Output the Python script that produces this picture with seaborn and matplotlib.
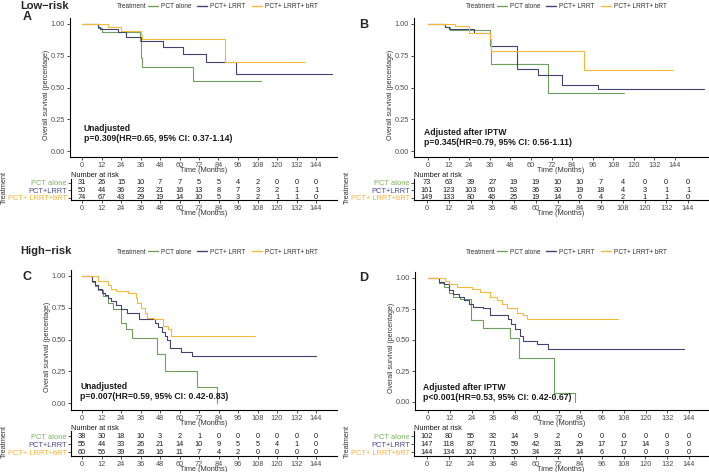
import matplotlib
matplotlib.use("Agg")
import matplotlib.pyplot as plt
from matplotlib.lines import Line2D
import pandas as pd
import seaborn as sns

W, H = 709, 472

groups = ["PCT alone", "PCT+ LRRT", "PCT+ LRRT+ bRT"]
row_labels = ["PCT alone", "PCT+LRRT", "PCT+ LRRT+bRT"]
colors = ["#6f9f5f", "#43436f", "#f6b93b"]
label_colors = ["#78b35c", "#4b4b96", "#f2b134"]
time_ticks = list(range(0, 145, 12))

# --- KM curves (step points) ---
a_alone_t = [0, 10, 12, 35.5, 36, 36.5, 37, 68, 110]
a_alone_s = [1.0, 0.967, 0.934, 0.87, 0.80, 0.73, 0.663, 0.553, 0.553]
a_lrrt_t = [0, 10, 11, 22, 27, 36, 50, 62, 76, 95, 154]
a_lrrt_s = [1.0, 0.98, 0.96, 0.94, 0.90, 0.87, 0.82, 0.765, 0.70, 0.61, 0.61]
a_brt_t = [0, 16, 24, 36, 37, 88, 137]
a_brt_s = [1.0, 0.98, 0.945, 0.91, 0.879, 0.70, 0.70]

b_alone_t = [0, 10, 13, 36, 37, 70, 114]
b_alone_s = [1.0, 0.98, 0.955, 0.83, 0.684, 0.455, 0.455]
b_lrrt_t = [0, 10, 12, 27, 36, 37, 52, 64, 78, 99, 161]
b_lrrt_s = [1.0, 0.98, 0.96, 0.93, 0.88, 0.826, 0.645, 0.595, 0.52, 0.487, 0.487]
b_brt_t = [0, 16, 24, 36, 37, 91, 143]
b_brt_s = [1.0, 0.985, 0.93, 0.88, 0.79, 0.634, 0.634]

c_alone_t = [0, 6, 8, 10, 13, 16, 19, 24, 27, 31, 46, 51, 71, 83]
c_alone_s = [1.0, 0.95, 0.92, 0.89, 0.84, 0.79, 0.74, 0.63, 0.58, 0.51, 0.384, 0.253, 0.128, 0.0]
c_lrrt_t = [0, 6, 8, 10, 12, 14, 16, 18, 21, 24, 27.5, 35, 45, 47, 49, 51, 52, 54, 61, 67.5, 144]
c_lrrt_s = [1.0, 0.96, 0.93, 0.90, 0.87, 0.85, 0.83, 0.80, 0.77, 0.74, 0.71, 0.66, 0.63, 0.60,
            0.56, 0.53, 0.50, 0.43, 0.405, 0.37, 0.37]
c_brt_t = [0, 10, 16, 18, 21, 28.5, 33, 34, 36.5, 38.5, 40, 44, 50, 53, 55, 106.5]
c_brt_s = [1.0, 0.96, 0.93, 0.90, 0.88, 0.867, 0.83, 0.79, 0.75, 0.71, 0.67, 0.66, 0.61, 0.58,
           0.527, 0.527]

d_alone_t = [0, 6, 8.6, 11.4, 14, 17.8, 23.5, 30.6, 45.3, 50, 69.5, 81]
d_alone_s = [1.0, 0.96, 0.93, 0.88, 0.85, 0.83, 0.665, 0.598, 0.517, 0.351, 0.07, 0.0]
d_lrrt_t = [0, 6, 8.6, 11.4, 14, 16.9, 19.6, 22.4, 25, 30.6, 34.3, 44.4, 46, 48, 51, 52.6, 60,
            66.4, 141]
d_lrrt_s = [1.0, 0.97, 0.95, 0.90, 0.87, 0.85, 0.82, 0.79, 0.77, 0.755, 0.70, 0.67, 0.63, 0.59,
            0.53, 0.49, 0.464, 0.424, 0.424]
d_brt_t = [0, 9.5, 11.4, 16, 24, 28.8, 34.3, 38, 40.7, 43.5, 49, 52.6, 54.5, 105]
d_brt_s = [1.0, 0.975, 0.955, 0.93, 0.915, 0.89, 0.85, 0.82, 0.79, 0.759, 0.72, 0.70, 0.673, 0.673]

# --- number at risk ---
a_risk = [[31, 26, 15, 10, 7, 7, 5, 5, 4, 2, 0, 0, 0],
          [50, 44, 36, 23, 21, 16, 13, 8, 7, 3, 2, 1, 1],
          [74, 67, 43, 29, 19, 14, 10, 5, 3, 2, 1, 1, 0]]
b_risk = [[73, 63, 39, 27, 19, 19, 10, 10, 7, 4, 0, 0, 0],
          [161, 123, 103, 60, 53, 36, 30, 19, 18, 4, 3, 1, 1],
          [149, 133, 80, 46, 25, 19, 14, 6, 4, 2, 1, 1, 0]]
c_risk = [[38, 30, 18, 10, 3, 2, 1, 0, 0, 0, 0, 0, 0],
          [55, 44, 33, 26, 21, 14, 10, 9, 5, 5, 4, 1, 0],
          [60, 56, 39, 26, 16, 11, 7, 4, 2, 0, 0, 0, 0]]
d_risk = [[102, 80, 55, 32, 14, 9, 2, 0, 0, 0, 0, 0, 0],
          [147, 118, 87, 71, 59, 42, 31, 29, 17, 17, 14, 3, 0],
          [144, 134, 102, 73, 50, 34, 22, 14, 6, 0, 0, 0, 0]]

annot = {
    "A": "Unadjusted\np=0.309(HR=0.65, 95% CI: 0.37-1.14)",
    "B": "Adjusted after IPTW\np=0.345(HR=0.79, 95% CI: 0.56-1.11)",
    "C": "Unadjusted\np=0.007(HR=0.59, 95% CI: 0.42-0.83)",
    "D": "Adjusted after IPTW\np<0.001(HR=0.53, 95% CI: 0.42-0.67)",
}
annot_pos = {"A": (0.052, 0.10), "B": (0.034, 0.072), "C": (0.034, 0.064), "D": (0.027, 0.058)}

sns.set_theme(style="ticks")
plt.rcParams["font.family"] = ["Liberation Sans", "DejaVu Sans"]

fig = plt.figure(figsize=(W / 100, H / 100), dpi=100)


def box(l, t, r, b):
    return [l / W, 1 - b / H, (r - l) / W, (b - t) / H]


def xlim_px(left, right, x0, x144):
    k = (x144 - x0) / 144
    return ((left - x0) / k, (right - x0) / k)


def style_axes(ax):
    sns.despine(ax=ax)
    for s in ["left", "bottom"]:
        ax.spines[s].set_linewidth(0.8)
        ax.spines[s].set_color("black")
    ax.tick_params(labelsize=5.3, length=2, width=0.6, color="#333333",
                   labelcolor="#4d4d4d", pad=1.5)


panels = [
    # name, curves, risk, plot box, plot x px, plot y px, risk box, risk x px, risk ylim
    ("A", [(a_alone_t, a_alone_s), (a_lrrt_t, a_lrrt_s), (a_brt_t, a_brt_s)], a_risk,
     (70, 18, 337, 157), (82, 316), (24, 151), (71, 179, 337, 200), (82, 316), (-0.3, 2.5)),
    ("B", [(b_alone_t, b_alone_s), (b_lrrt_t, b_lrrt_s), (b_brt_t, b_brt_s)], b_risk,
     (414, 18, 708, 157), (428, 675), (24, 151), (414, 179, 708, 200), (427, 688), (-0.3, 2.5)),
    ("C", [(c_alone_t, c_alone_s), (c_lrrt_t, c_lrrt_s), (c_brt_t, c_brt_s)], c_risk,
     (71, 270, 337, 410), (82, 316), (276, 403), (71, 431, 337, 456), (82, 316), (-0.5, 2.7)),
    ("D", [(d_alone_t, d_alone_s), (d_lrrt_t, d_lrrt_s), (d_brt_t, d_brt_s)], d_risk,
     (415, 272, 708, 410), (428, 689), (278, 402), (414, 431, 708, 456), (427, 689), (-0.5, 2.7)),
]

for name, curves, risk, pbox, pxx, pxy, rbox, rxx, rylim in panels:
    l, t, r, b = pbox
    ax = fig.add_axes(box(*pbox))
    rows = []
    for g, (ts, ss) in zip(groups, curves):
        rows.append(pd.DataFrame({"time": ts, "surv": ss, "group": g}))
    df = pd.concat(rows, ignore_index=True)
    sns.lineplot(data=df, x="time", y="surv", hue="group", hue_order=groups,
                 palette=colors, drawstyle="steps-post", estimator=None, sort=False,
                 legend=False, linewidth=0.8, ax=ax)
    ax.set_xlim(*xlim_px(l, r, *pxx))
    k = (pxy[1] - pxy[0])
    ax.set_ylim((pxy[1] - b) / k, (pxy[1] - t) / k)
    ax.set_xticks(time_ticks)
    ax.set_yticks([0, 0.25, 0.5, 0.75, 1.0])
    ax.set_yticklabels(["0.00", "0.25", "0.50", "0.75", "1.00"])
    style_axes(ax)
    ax.set_xlabel("Time (Months)", fontsize=5.3, color="#333333", labelpad=-1)
    ax.set_ylabel("Overall survival (percentage)", fontsize=5, color="#333333")
    ax.yaxis.set_label_coords(-20 / (r - l), 0.45)
    ax_x, ax_y = annot_pos[name]
    ax.text(ax_x, ax_y, annot[name], transform=ax.transAxes,
            fontsize=6.2, fontweight="bold", color="#1a1a1a", va="bottom", ha="left",
            linespacing=1.2)

    # risk table
    rl, rt, rr, rb = rbox
    rax = fig.add_axes(box(*rbox))
    rax.set_xlim(*xlim_px(rl, rr, *rxx))
    rax.set_ylim(*rylim)
    for i, counts in enumerate(risk):
        for tm, n in zip(time_ticks, counts):
            rax.text(tm, 2 - i, str(n), ha="center", va="center", fontsize=5.3,
                     color="#1a1a1a")
    rax.set_xticks(time_ticks)
    rax.set_yticks([2, 1, 0])
    rax.set_yticklabels(row_labels)
    style_axes(rax)
    rax.tick_params(axis="y", labelsize=5.4, pad=1)
    for lab, c in zip(rax.get_yticklabels(), label_colors):
        lab.set_color(c)
    rax.set_xlabel("Time (Months)", fontsize=5.3, color="#333333", labelpad=-1)
    rax.set_ylabel("Treatment", fontsize=5.3, color="#333333")
    rax.yaxis.set_label_coords(-63 / (rr - rl), 0.6)
    rax.text(0, 0.98, "Number at risk", transform=rax.transAxes, fontsize=5.3,
             color="#1a1a1a", ha="left", va="bottom")

# panel letters and section titles
for lab, x, y in [("A", 27, 20), ("B", 364, 28), ("C", 27, 280), ("D", 364, 281)]:
    fig.text(x / W, 1 - y / H, lab, fontsize=9, fontweight="bold", ha="center", va="baseline")
fig.text(20 / W, 1 - 6 / H, "Low\u2212risk", fontsize=8, fontweight="bold", va="center")
fig.text(20 / W, 1 - 251 / H, "High\u2212risk", fontsize=8, fontweight="bold", va="center")

# legends
handles = [Line2D([], [], color=c, lw=1) for c in colors]
for x, y in [(117, 7), (466, 7), (117, 252), (466, 252)]:
    fig.text(x / W, 1 - y / H, "Treatment", fontsize=4.7, color="#333333", va="center")
    fig.legend(handles, groups, loc="center left", bbox_to_anchor=((x + 31) / W, 1 - y / H),
               ncol=3, frameon=False, fontsize=4.7, handlelength=1.5, handletextpad=0.5,
               columnspacing=0.9, borderpad=0, borderaxespad=0, labelcolor="#333333")

fig.savefig("out.png", dpi=100)
